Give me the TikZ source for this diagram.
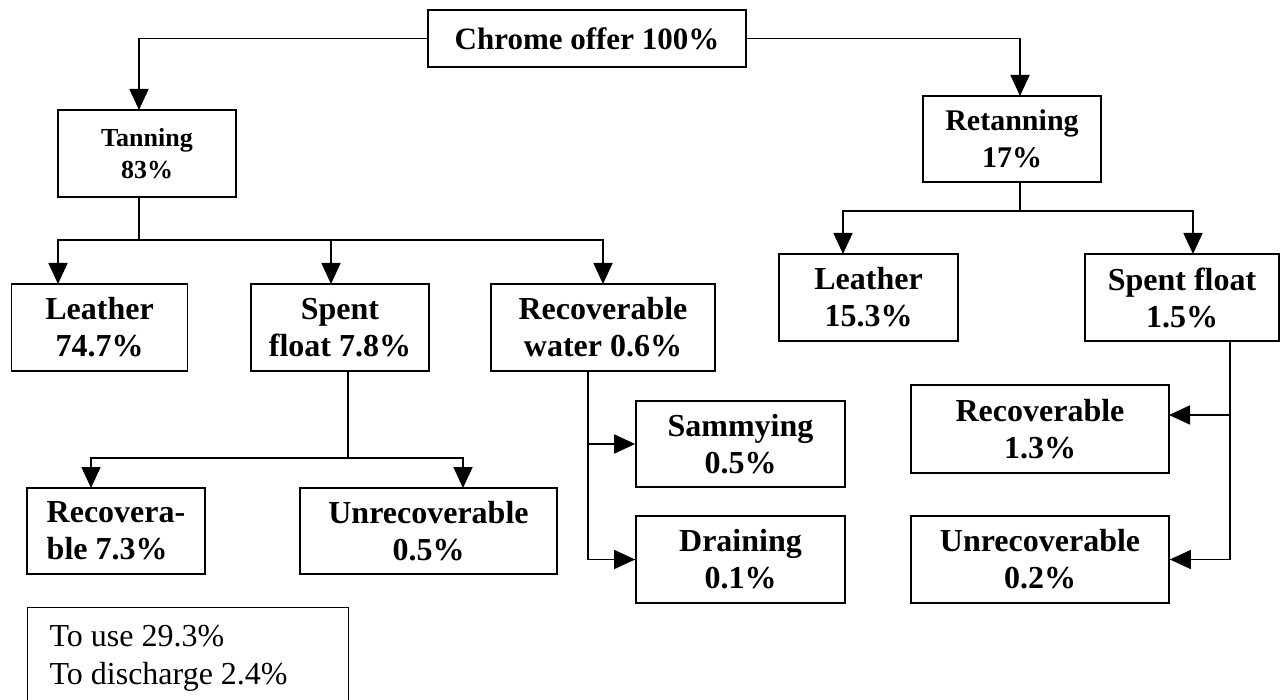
\documentclass[tikz,border=0pt]{standalone}
\usepackage{fontspec}
\setmainfont{Liberation Serif}
\usetikzlibrary{arrows.meta}
\tikzset{
  box/.style={draw, line width=1.7pt, inner sep=0pt, align=center,
    font=\bfseries\fontsize{32}{37}\selectfont},
  ln/.style={line width=1.7pt},
  arr/.style={line width=1.7pt, -{Triangle[width=19pt,length=21pt]}},
}
\begin{document}
\begin{tikzpicture}[x=1pt,y=-1pt]
\clip (0,0) rectangle (1284,700);
\fill[white] (0,0) rectangle (1284,700);
% boxes
\node[box, minimum width=318pt, minimum height=57pt, font=\bfseries\fontsize{31}{36}\selectfont] (chrome) at (587,38.5) {Chrome offer 100\%};
\node[box, minimum width=178pt, minimum height=87pt, font=\bfseries\fontsize{26}{32}\selectfont] (tan) at (147,153.5) {Tanning\\83\%};
\node[box, minimum width=178pt, minimum height=86pt, font=\bfseries\fontsize{30}{37}\selectfont] (retan) at (1012,139) {Retanning\\17\%};
\node[box, minimum width=176pt, minimum height=87pt] (leath1) at (99.5,327.5) {Leather\\74.7\%};
\node[box, minimum width=178pt, minimum height=87pt] (spent1) at (340,327.5) {Spent\\float 7.8\%};
\node[box, minimum width=224pt, minimum height=87pt] (recw) at (603,327.5) {Recoverable\\water 0.6\%};
\node[box, minimum width=179pt, minimum height=87pt] (leath2) at (868.5,297.5) {Leather\\15.3\%};
\node[box, minimum width=194pt, minimum height=87pt] (spent2) at (1182,297.5) {Spent float\\1.5\%};
\node[box, minimum width=178pt, minimum height=86pt, align=left] (rec73) at (116,531) {Recovera-\\ble 7.3\%};
\node[box, minimum width=257pt, minimum height=86pt] (unrec05) at (428.5,531) {Unrecoverable\\0.5\%};
\node[box, minimum width=209pt, minimum height=86pt] (samm) at (740.5,444) {Sammying\\0.5\%};
\node[box, minimum width=209pt, minimum height=87pt] (drain) at (740.5,559.5) {Draining\\0.1\%};
\node[box, minimum width=258pt, minimum height=88pt] (rec13) at (1040,429) {Recoverable\\1.3\%};
\node[box, minimum width=258pt, minimum height=87pt] (unrec02) at (1040,559.5) {Unrecoverable\\0.2\%};
\node[draw, line width=1.2pt, anchor=north west, inner xsep=22pt, inner ysep=18pt,
  text width=277pt, align=flush left, font=\fontsize{32}{38}\selectfont] (legend) at (27,607)
  {To use 29.3\%\\To discharge 2.4\%\\[8pt]\mbox{}};
% junction coordinates
\coordinate (tanin) at (139,110);
\coordinate (tanout) at (139,197);
\coordinate (j1) at (139,240);
\coordinate (retin) at (1020,96);
\coordinate (retout) at (1020,182);
\coordinate (j2) at (1020,211);
\coordinate (l1in) at (58,284);
\coordinate (s1in) at (331,284);
\coordinate (rwin) at (603,284);
\coordinate (l2in) at (843,254);
\coordinate (s2in) at (1193,254);
\coordinate (s1out) at (348,371);
\coordinate (j3) at (348,458);
\coordinate (r73in) at (91,488);
\coordinate (u05in) at (463,488);
\coordinate (rwout) at (588,371);
\coordinate (s2out) at (1230,341);
\coordinate (r13in) at (1169,415);
% connectors
\draw[arr] (chrome.west) -| (tanin);
\draw[arr] (chrome.east) -| (retin);
\draw[ln] (tanout) -- (j1);
\draw[arr] (j1) -| (l1in);
\draw[arr] (j1) -| (s1in);
\draw[arr] (j1) -| (rwin);
\draw[ln] (retout) -- (j2);
\draw[arr] (j2) -| (l2in);
\draw[arr] (j2) -| (s2in);
\draw[ln] (s1out) -- (j3);
\draw[arr] (j3) -| (r73in);
\draw[arr] (j3) -| (u05in);
\draw[ln] (rwout) |- (drain.west);
\draw[arr] (rwout |- samm.west) -- (samm.west);
\draw[arr] (rwout |- drain.west) -- (drain.west);
\draw[ln] (s2out) |- (unrec02.east);
\draw[arr] (s2out |- r13in) -- (r13in);
\draw[arr] (s2out |- unrec02.east) -- (unrec02.east);
\end{tikzpicture}
\end{document}
